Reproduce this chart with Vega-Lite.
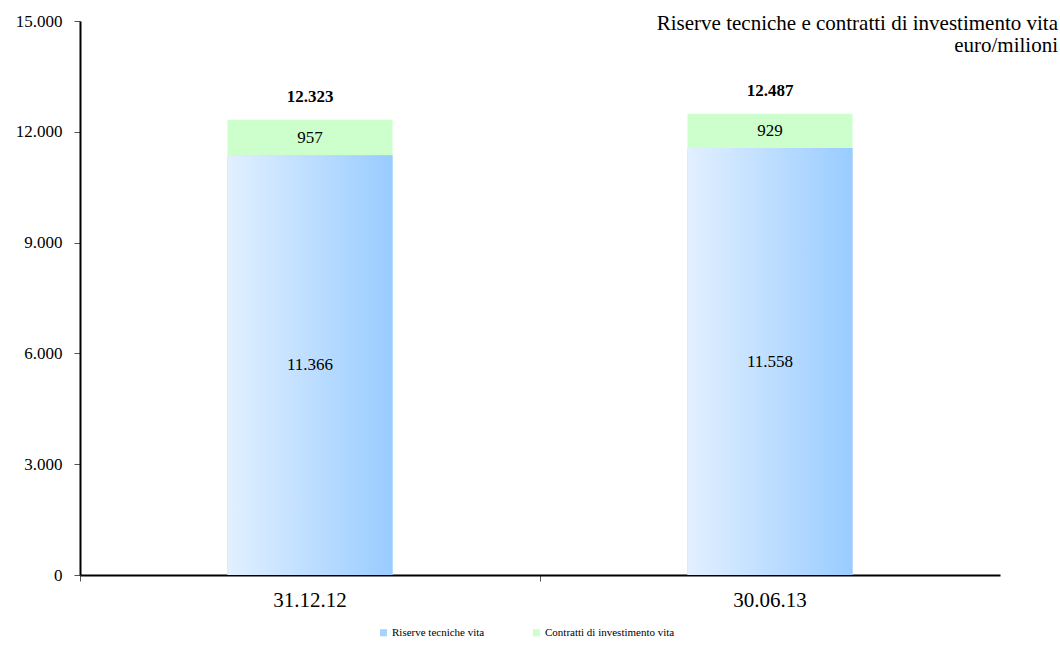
{
  "$schema": "https://vega.github.io/schema/vega-lite/v6.json",
  "width": 920,
  "height": 554,
  "autosize": {"type": "none"},
  "padding": {"left": 80, "top": 21, "right": 60, "bottom": 91},
  "background": "white",
  "config": {
    "view": {"stroke": null},
    "font": "Liberation Serif",
    "locale": {"number": {"decimal": ",", "thousands": ".", "grouping": [3], "currency": ["€", ""]}}
  },
  "title": {
    "text": ["Riserve tecniche e contratti di investimento vita", "euro/milioni"],
    "orient": "top",
    "anchor": "end",
    "frame": "group",
    "align": "right",
    "baseline": "bottom",
    "offset": -65,
    "dx": 58,
    "font": "Liberation Serif",
    "fontSize": 21,
    "fontWeight": "normal",
    "lineHeight": 22,
    "color": "#000000"
  },
  "data": {
    "values": [
      {"data": "31.12.12", "voce": "Riserve tecniche vita", "valore": 11366, "ord": 1},
      {"data": "31.12.12", "voce": "Contratti di investimento vita", "valore": 957, "ord": 2},
      {"data": "30.06.13", "voce": "Riserve tecniche vita", "valore": 11558, "ord": 1},
      {"data": "30.06.13", "voce": "Contratti di investimento vita", "valore": 929, "ord": 2}
    ]
  },
  "encoding": {
    "x": {
      "field": "data",
      "type": "nominal",
      "sort": null,
      "scale": {"paddingInner": 0, "paddingOuter": 0},
      "axis": {
        "title": null,
        "bandPosition": 0,
        "labelAngle": 0,
        "labelAlign": "center",
        "labelDx": 230,
        "labelFontSize": 21,
        "labelColor": "#000000",
        "labelPadding": 8,
        "ticks": true,
        "tickSize": 6,
        "tickWidth": 1,
        "tickColor": "#555555",
        "domainColor": "#000000",
        "domainWidth": 2
      }
    }
  },
  "layer": [
    {
      "mark": {"type": "bar", "size": 165},
      "encoding": {
        "y": {
          "field": "valore",
          "type": "quantitative",
          "stack": "zero",
          "scale": {"domain": [0, 15000], "nice": false},
          "axis": {
            "title": null,
            "values": [0, 3000, 6000, 9000, 12000, 15000],
            "format": ",d",
            "grid": false,
            "labelFontSize": 17,
            "labelColor": "#000000",
            "labelPadding": 12,
            "tickSize": 6,
            "tickColor": "#555555",
            "domainColor": "#000000",
            "domainWidth": 2
          }
        },
        "color": {
          "field": "voce",
          "type": "nominal",
          "scale": {
            "domain": ["Riserve tecniche vita", "Contratti di investimento vita"],
            "range": ["#a8d3ff", "#ccffcc"]
          },
          "legend": {
            "title": null,
            "orient": "none",
            "direction": "horizontal",
            "legendX": 298,
            "legendY": 606,
            "symbolType": "square",
            "symbolSize": 50,
            "symbolStrokeWidth": 0,
            "labelFontSize": 11,
            "labelColor": "#000000",
            "labelOffset": 3,
            "columnPadding": 46
          }
        },
        "order": {"field": "ord"}
      }
    },
    {
      "transform": [{"filter": "datum.ord == 1"}],
      "mark": {
        "type": "bar",
        "size": 165,
        "color": {
          "gradient": "linear",
          "x1": 0, "y1": 0, "x2": 1, "y2": 0,
          "stops": [
            {"offset": 0, "color": "#e2f0ff"},
            {"offset": 1, "color": "#99ccff"}
          ]
        }
      },
      "encoding": {
        "y": {"field": "valore", "type": "quantitative"}
      }
    },
    {
      "mark": {"type": "text", "fontSize": 17, "color": "#000000", "baseline": "middle"},
      "encoding": {
        "y": {"field": "valore", "type": "quantitative", "stack": "zero", "bandPosition": 0.5},
        "text": {"field": "valore", "type": "quantitative", "format": ",d"},
        "order": {"field": "ord"}
      }
    },
    {
      "transform": [{"aggregate": [{"op": "sum", "field": "valore", "as": "totale"}], "groupby": ["data"]}],
      "mark": {"type": "text", "fontSize": 17, "fontWeight": "bold", "color": "#000000", "baseline": "bottom", "dy": -14},
      "encoding": {
        "y": {"field": "totale", "type": "quantitative"},
        "text": {"field": "totale", "type": "quantitative", "format": ",d"}
      }
    }
  ]
}
